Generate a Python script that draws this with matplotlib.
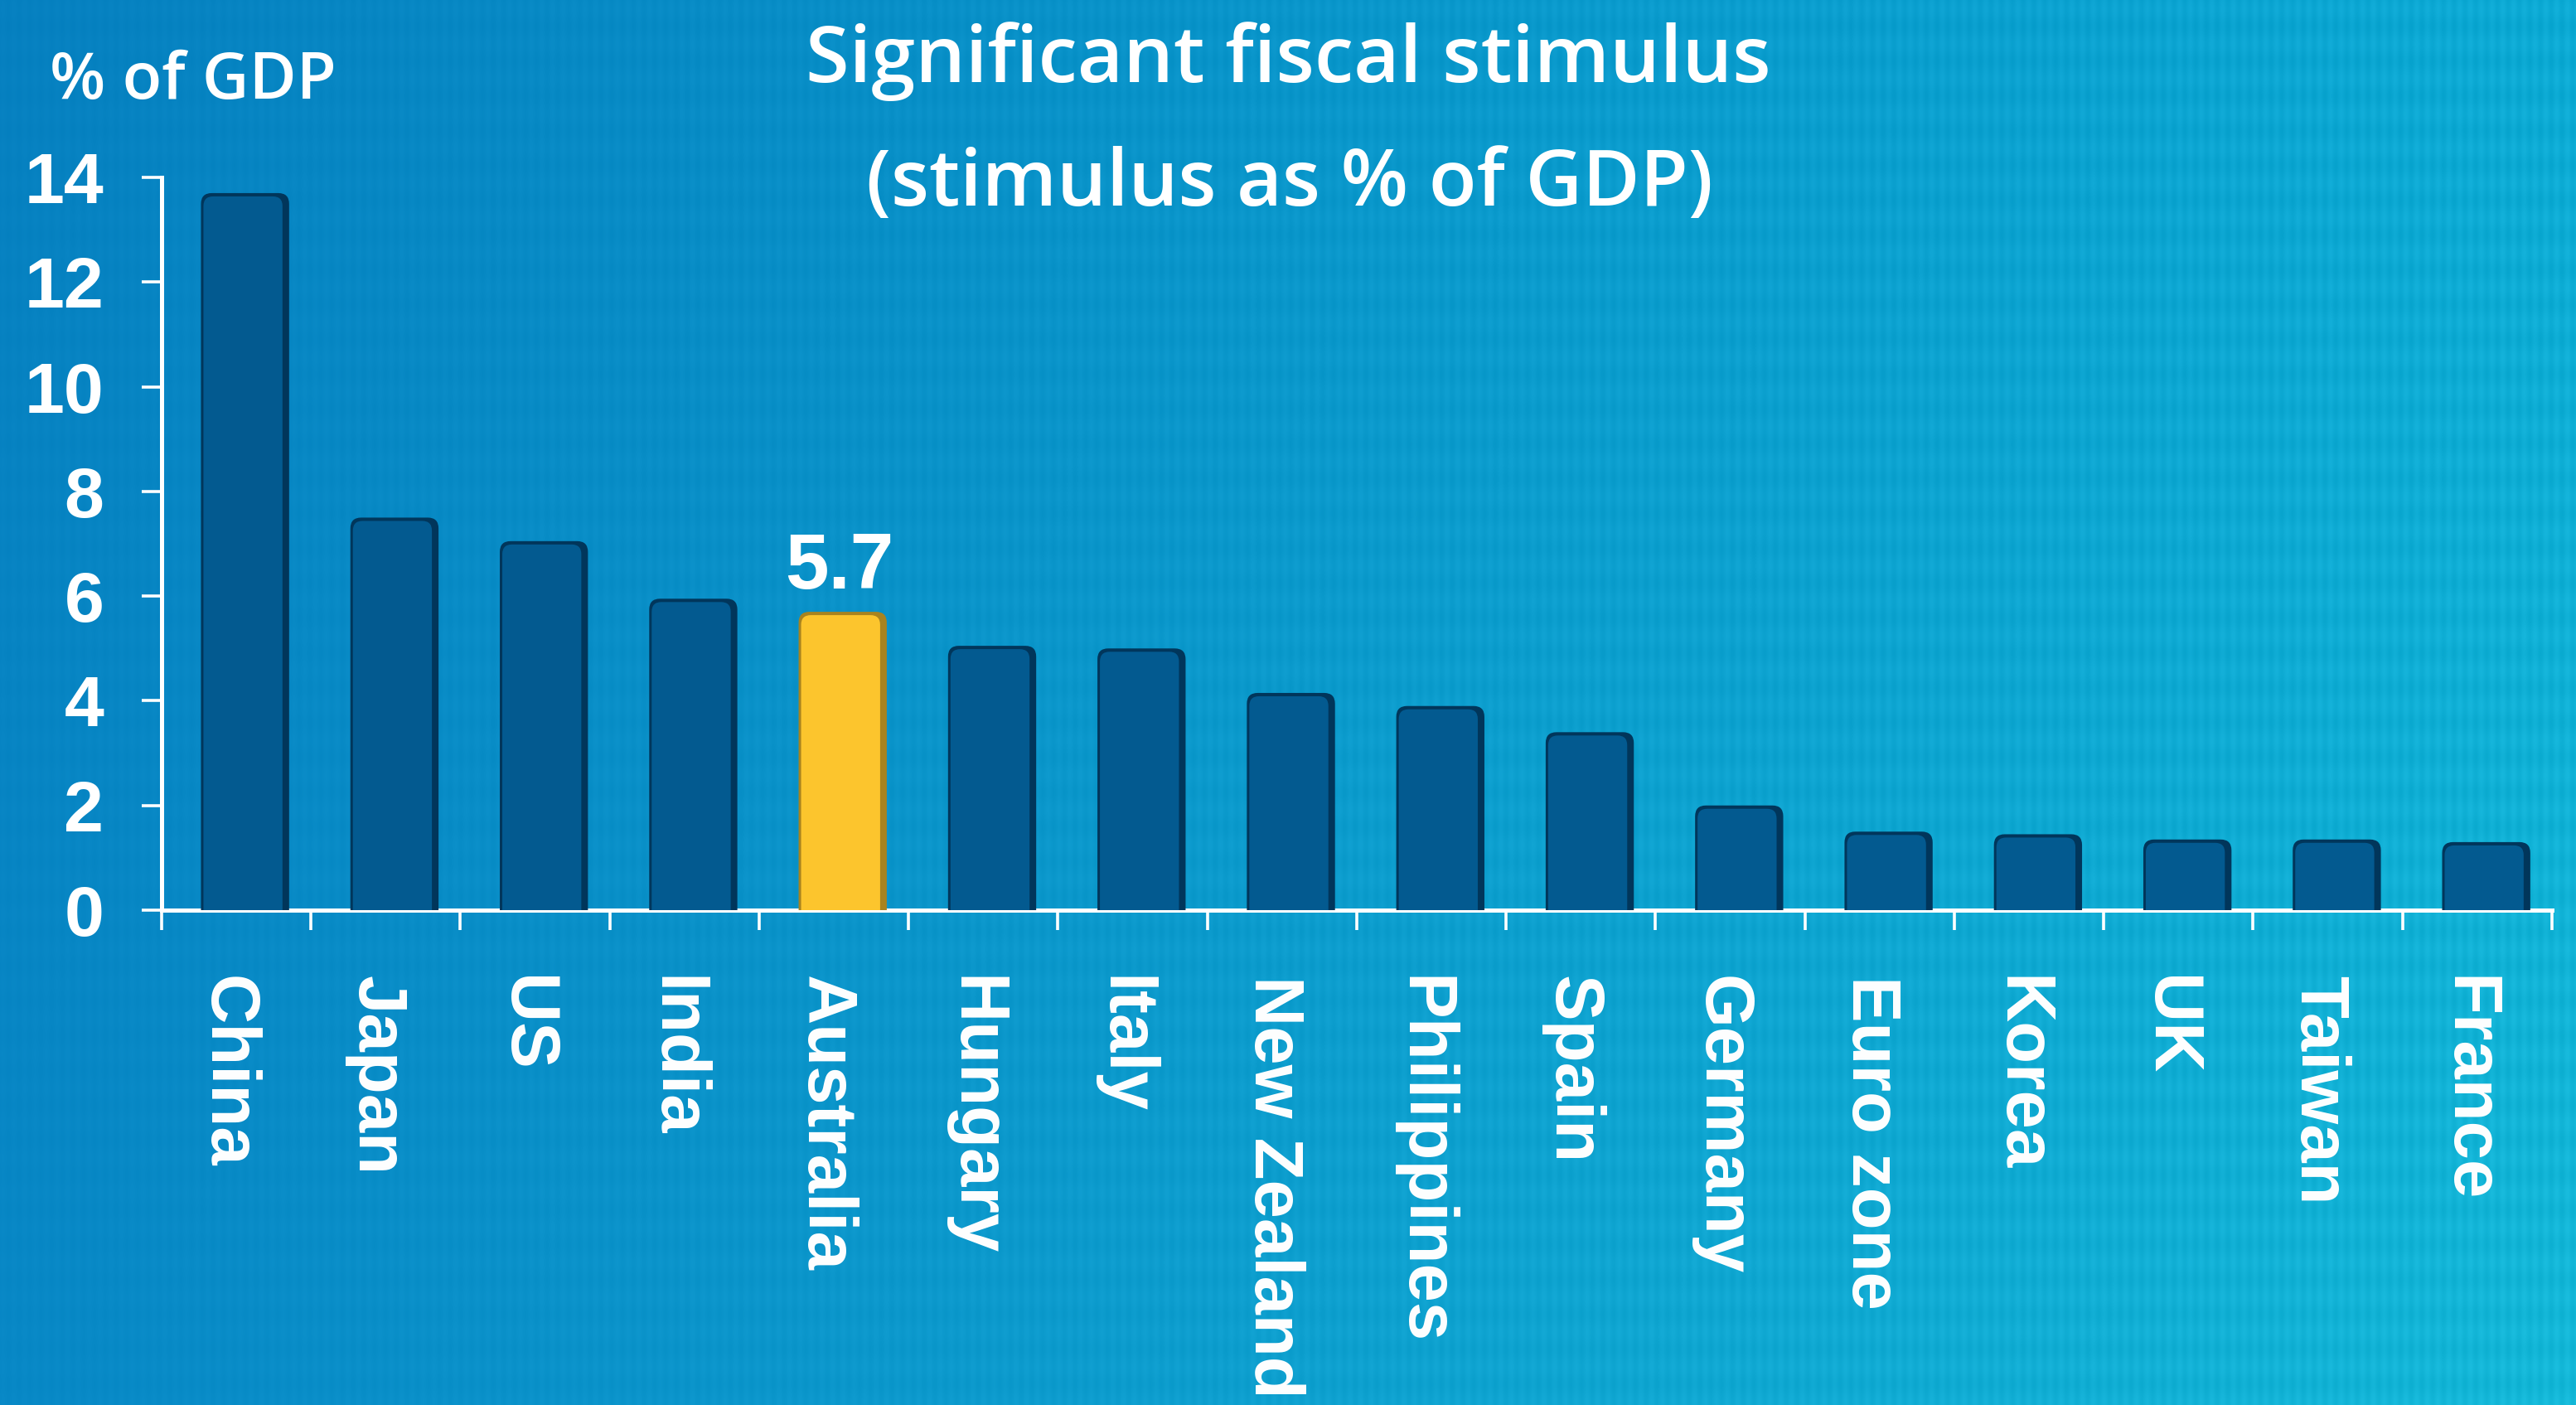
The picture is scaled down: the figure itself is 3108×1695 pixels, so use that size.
import numpy as np
import matplotlib
matplotlib.use("Agg")
import matplotlib.pyplot as plt
import matplotlib.transforms as mtransforms
from matplotlib.patches import FancyBboxPatch

# ---------------- data ----------------
categories = ["China", "Japan", "US", "India", "Australia", "Hungary", "Italy",
              "New Zealand", "Philippines", "Spain", "Germany", "Euro zone",
              "Korea", "UK", "Taiwan", "France"]
values = [13.7, 7.5, 7.05, 5.95, 5.7, 5.05, 5.0, 4.15, 3.9, 3.4, 2.0, 1.5,
          1.45, 1.35, 1.35, 1.3]
highlight = "Australia"
yticks = [0, 2, 4, 6, 8, 10, 12, 14]
title_lines = ["Significant fiscal stimulus", "(stimulus as % of GDP)"]
unit_label = "% of GDP"

# ---------------- styling ----------------
W, H, DPI = 3108, 1695, 100
BAR_BLUE, BAR_BLUE_DARK = "#035a90", "#01365b"
BAR_YEL, BAR_YEL_DARK = "#fcc52d", "#a8831f"
TITLE_FONT = ["Open Sans", "DejaVu Sans"]
NUM_FONT = ["Liberation Sans", "DejaVu Sans"]

fig = plt.figure(figsize=(W / DPI, H / DPI), dpi=DPI)

# background gradient with fine texture
u = np.linspace(0, 1, W, dtype=np.float32)[None, :]
v = np.linspace(0, 1, H, dtype=np.float32)[:, None]
tl = np.array([6, 128, 192], np.float32) / 255
tr = np.array([12, 170, 212], np.float32) / 255
bl = np.array([8, 136, 198], np.float32) / 255
br = np.array([20, 184, 216], np.float32) / 255
bg = (((1 - u) * (1 - v))[..., None] * tl + (u * (1 - v))[..., None] * tr
      + ((1 - u) * v)[..., None] * bl + (u * v)[..., None] * br)
px = np.arange(W, dtype=np.float32)[None, :]
py = np.arange(H, dtype=np.float32)[:, None]
amp = 0.006 + 0.018 * u
tex = amp * (0.6 * np.sin(2 * np.pi * px / 13.0) + 0.4 * np.sin(2 * np.pi * py / 42.0))
bg = np.clip(bg + tex[..., None], 0, 1)
bgax = fig.add_axes([0, 0, 1, 1], zorder=-5)
bgax.imshow(bg, aspect="auto", interpolation="nearest")
bgax.set_axis_off()

# main axes
left, right = 194.7 / W, 3079 / W
bottom, top = 1 - 1098 / H, 1 - 214 / H
ax = fig.add_axes([left, bottom, right - left, top - bottom], zorder=1)
ax.set_facecolor("none")
n = len(categories)
ax.set_xlim(-0.5, n - 0.5)
ax.set_ylim(0, 14)

for s in ["top", "right"]:
    ax.spines[s].set_visible(False)
for s in ["left", "bottom"]:
    ax.spines[s].set_color("white")
    ax.spines[s].set_linewidth(3.6)
    ax.spines[s].set_capstyle("projecting")

ax.set_yticks(yticks)
ax.set_yticklabels([str(t) for t in yticks])
ax.tick_params(axis="y", direction="out", length=17, width=2.6, color="white",
               labelcolor="white", labelsize=62, pad=33)
pos = np.arange(n)
ax.set_xticks(pos)
ax.set_xticklabels(categories, rotation=-90, ha="center", va="top")
ax.set_xticks(np.arange(-0.5, n, 1.0), minor=True)
ax.tick_params(axis="x", which="major", length=0, labelcolor="white",
               labelsize=60, pad=57)
ax.tick_params(axis="x", which="minor", direction="out", length=17, width=2.6,
               color="white")
for lab in ax.get_xticklabels() + ax.get_yticklabels():
    lab.set_fontfamily(NUM_FONT)
    lab.set_fontweight("bold")
shift = mtransforms.ScaledTranslation(-11 / DPI, 0, fig.dpi_scale_trans)
for lab in ax.get_xticklabels():
    lab.set_transform(lab.get_transform() + shift)

# bars
offset = 0.06
colors = [BAR_YEL if c == highlight else BAR_BLUE for c in categories]
darks = [BAR_YEL_DARK if c == highlight else BAR_BLUE_DARK for c in categories]
bars = ax.bar(pos + offset, values, width=0.59, color=colors, zorder=3)

# convert pixel sizes to data units
fig.canvas.draw()
x_per_px = n / ax.get_window_extent().width
y_per_px = 14 / ax.get_window_extent().height
aspect = y_per_px / x_per_px
rad = 13 * x_per_px
for rect, c, dc in zip(bars, colors, darks):
    x0, w, h = rect.get_x(), rect.get_width(), rect.get_height()
    rect.set_visible(False)
    base = -1.0
    shadow = FancyBboxPatch((x0, base), w, h - base,
                            boxstyle=f"round,pad=0,rounding_size={rad}",
                            mutation_aspect=aspect, fc=dc, ec="none", zorder=3)
    ax.add_patch(shadow)
    dl, dr, dt = 3 * x_per_px, 8 * x_per_px, 4 * y_per_px
    body = FancyBboxPatch((x0 + dl, base), w - dl - dr, h - base - dt,
                          boxstyle=f"round,pad=0,rounding_size={rad * 0.9}",
                          mutation_aspect=aspect, fc=c, ec="none", zorder=4)
    ax.add_patch(body)

# value label on highlighted bar
hi = categories.index(highlight)
ax.annotate(f"{values[hi]:.1f}", xy=(pos[hi] + offset, values[hi]), xytext=(-3, 20),
            textcoords="offset points", ha="center", va="baseline", color="white",
            fontsize=68, fontweight="bold", family=NUM_FONT, zorder=5)

# titles
renderer = fig.canvas.get_renderer()


def fit_text(x, y, s, target_w, **kw):
    t = fig.text(x, y, s, **kw)
    bb = t.get_window_extent(renderer=renderer)
    t.set_fontsize(t.get_fontsize() * target_w / bb.width)
    return t


fit_text(1554 / W, 1 - 99 / H, title_lines[0], 1165, ha="center", va="baseline",
         color="white", fontsize=60, fontweight="semibold", family=TITLE_FONT)
fit_text(1556 / W, 1 - 248 / H, title_lines[1], 1022, ha="center", va="baseline",
         color="white", fontsize=60, fontweight="semibold", family=TITLE_FONT)
fit_text(60 / W, 1 - 119 / H, unit_label, 346, ha="left", va="baseline",
         color="white", fontsize=50, fontweight="semibold", family=TITLE_FONT)

fig.savefig("out.png", dpi=DPI)
